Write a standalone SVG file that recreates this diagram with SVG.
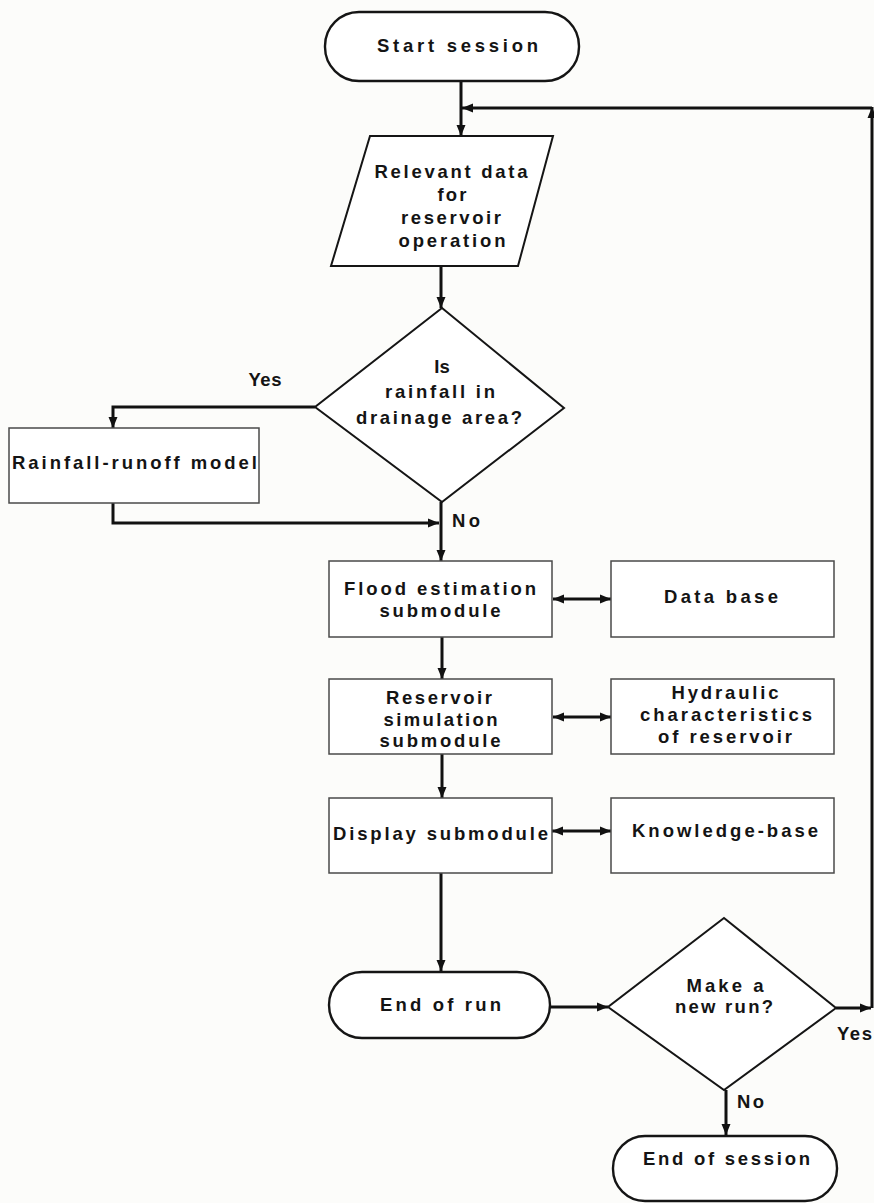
<svg xmlns="http://www.w3.org/2000/svg" width="874" height="1203" viewBox="0 0 874 1203">
  <style>
    .bg { fill: #fcfcfa; }
    .box { fill: #ffffff; stroke: #4a4a4a; stroke-width: 1.5; }
    .term { fill: #ffffff; stroke: #151515; stroke-width: 2.4; }
    .dec { fill: #ffffff; stroke: #151515; stroke-width: 2; }
    .io { fill: #ffffff; stroke: #151515; stroke-width: 2; }
    .conn { fill: none; stroke: #111111; stroke-width: 3; }
    .t { font-family: "Liberation Sans", Arial, Helvetica, sans-serif; font-size: 18.5px; font-weight: bold; fill: #141414; text-anchor: middle; }
    .ts { text-anchor: start; }
  </style>
  <defs>
    <marker id="arrow" markerUnits="userSpaceOnUse" markerWidth="12" markerHeight="10" refX="11" refY="5" orient="auto-start-reverse">
      <path d="M0,0.5 L11,5 L0,9.5 Z" fill="#111111"/>
    </marker>
  </defs>

  <rect class="bg" x="0" y="0" width="874" height="1203"/>

  <!-- connectors -->
  <g id="connectors">
    <path class="conn" d="M461,81 V136" marker-end="url(#arrow)"/>
    <path class="conn" d="M441,266 V308" marker-end="url(#arrow)"/>
    <path class="conn" d="M315,407 H113 V428" marker-end="url(#arrow)"/>
    <path class="conn" d="M113,503 V523 H439" marker-end="url(#arrow)"/>
    <path class="conn" d="M441,502 V561" marker-end="url(#arrow)"/>
    <path class="conn" d="M442,637 V679" marker-end="url(#arrow)"/>
    <path class="conn" d="M442,754 V798" marker-end="url(#arrow)"/>
    <path class="conn" d="M441,873 V971" marker-end="url(#arrow)"/>
    <path class="conn" d="M550,1007 H608" marker-end="url(#arrow)"/>
    <path class="conn" d="M726,1090 V1135" marker-end="url(#arrow)"/>
    <!-- loop back for a new run -->
    <path class="conn" d="M836,1008 H871" marker-end="url(#arrow)"/>
    <path class="conn" d="M872,1008 V107" marker-end="url(#arrow)"/>
    <path class="conn" d="M872,108 H462" marker-end="url(#arrow)"/>
    <!-- two-way links to the side stores -->
    <path class="conn" d="M553,599 H611" marker-start="url(#arrow)" marker-end="url(#arrow)"/>
    <path class="conn" d="M553,717 H611" marker-start="url(#arrow)" marker-end="url(#arrow)"/>
    <path class="conn" d="M552,831 H611" marker-start="url(#arrow)" marker-end="url(#arrow)"/>
  </g>

  <g id="start-session">
    <rect class="term" x="325" y="12" width="254" height="69" rx="34" ry="34"/>
    <text class="t" x="457.5" y="52" font-size="19.5" textLength="161" lengthAdjust="spacing">Start session</text>
  </g>

  <g id="relevant-data">
    <polygon class="io" points="370,136 553,136 518,266 331,266"/>
    <text class="t" x="451" y="178" textLength="153" lengthAdjust="spacing">Relevant data</text>
    <text class="t" x="452" y="201" textLength="29" lengthAdjust="spacing">for</text>
    <text class="t" x="451" y="224" textLength="100" lengthAdjust="spacing">reservoir</text>
    <text class="t" x="452" y="247" textLength="107" lengthAdjust="spacing">operation</text>
  </g>

  <g id="rainfall-decision">
    <polygon class="dec" points="442,308 564,408 442,502 315,407"/>
    <text class="t" x="442" y="373">Is</text>
    <text class="t" x="440" y="398" textLength="110" lengthAdjust="spacing">rainfall in</text>
    <text class="t" x="439" y="424" textLength="166" lengthAdjust="spacing">drainage area?</text>
    <text class="t" x="265" y="386" textLength="33" lengthAdjust="spacing">Yes</text>
    <text class="t ts" x="452" y="527" textLength="28" lengthAdjust="spacing">No</text>
  </g>

  <g id="rainfall-runoff">
    <rect class="box" x="9" y="428" width="250" height="75"/>
    <text class="t" x="134.5" y="469" textLength="245" lengthAdjust="spacing">Rainfall-runoff model</text>
  </g>

  <g id="flood-estimation">
    <rect class="box" x="329" y="561" width="223" height="76"/>
    <text class="t" x="440" y="595" textLength="192" lengthAdjust="spacing">Flood estimation</text>
    <text class="t" x="440" y="617" textLength="121" lengthAdjust="spacing">submodule</text>
  </g>

  <g id="data-base">
    <rect class="box" x="611" y="561" width="223" height="76"/>
    <text class="t" x="721" y="603" textLength="114" lengthAdjust="spacing">Data base</text>
  </g>

  <g id="reservoir-simulation">
    <rect class="box" x="329" y="679" width="223" height="75"/>
    <text class="t" x="439" y="704" textLength="106" lengthAdjust="spacing">Reservoir</text>
    <text class="t" x="440.5" y="726" textLength="114" lengthAdjust="spacing">simulation</text>
    <text class="t" x="440" y="747" textLength="121" lengthAdjust="spacing">submodule</text>
  </g>

  <g id="hydraulic-characteristics">
    <rect class="box" x="611" y="679" width="223" height="75"/>
    <text class="t" x="725" y="699" textLength="107" lengthAdjust="spacing">Hydraulic</text>
    <text class="t" x="726" y="721" textLength="172" lengthAdjust="spacing">characteristics</text>
    <text class="t" x="725" y="743" textLength="134" lengthAdjust="spacing">of reservoir</text>
  </g>

  <g id="display-submodule">
    <rect class="box" x="329" y="798" width="223" height="75"/>
    <text class="t" x="440.5" y="840" textLength="215" lengthAdjust="spacing">Display submodule</text>
  </g>

  <g id="knowledge-base">
    <rect class="box" x="611" y="798" width="223" height="75"/>
    <text class="t" x="725" y="837" textLength="186" lengthAdjust="spacing">Knowledge-base</text>
  </g>

  <g id="end-of-run">
    <rect class="term" x="329" y="972" width="221" height="66" rx="33" ry="33"/>
    <text class="t" x="440.5" y="1011" textLength="121" lengthAdjust="spacing">End of run</text>
  </g>

  <g id="new-run-decision">
    <polygon class="dec" points="724,918 836,1008 724,1090 608,1007"/>
    <text class="t" x="725" y="992" textLength="77" lengthAdjust="spacing">Make a</text>
    <text class="t" x="724" y="1013" textLength="98" lengthAdjust="spacing">new run?</text>
    <text class="t ts" x="837" y="1040" textLength="35" lengthAdjust="spacing">Yes</text>
    <text class="t ts" x="737" y="1108" textLength="27" lengthAdjust="spacing">No</text>
  </g>

  <g id="end-of-session">
    <rect class="term" x="613" y="1136" width="224" height="65" rx="32" ry="32"/>
    <text class="t" x="726.5" y="1165" textLength="167" lengthAdjust="spacing">End of session</text>
  </g>
</svg>
